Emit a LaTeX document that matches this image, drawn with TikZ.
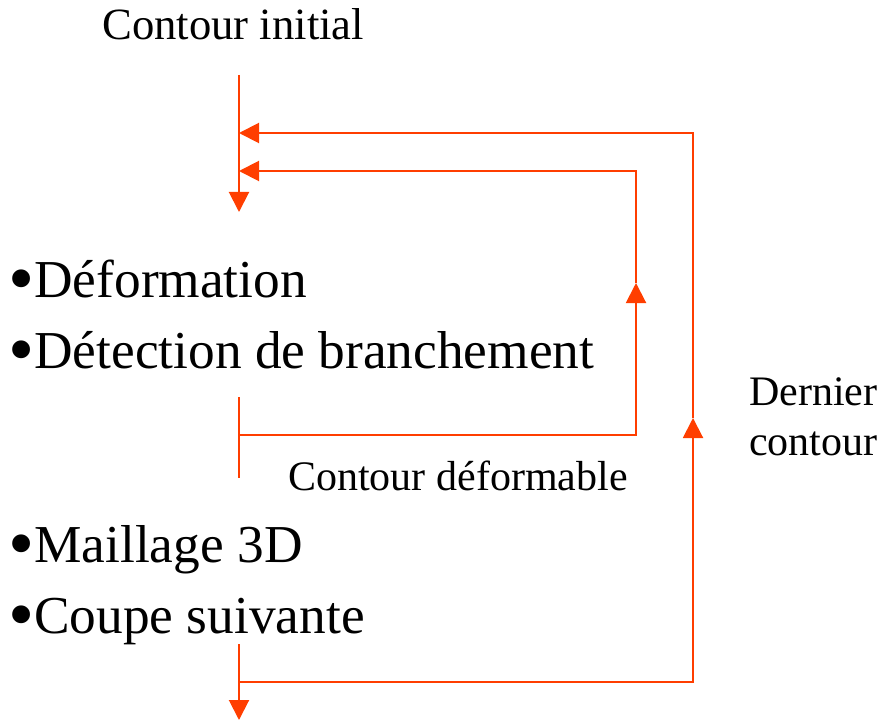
\documentclass[tikz,border=0pt]{standalone}
\usepackage{fontspec}
\setmainfont{Liberation Serif}
\usetikzlibrary{arrows.meta}
\definecolor{flow}{RGB}{255,62,0}
\newcommand{\mybul}{{\fontsize{56}{60}\selectfont\raisebox{-5pt}{•}}}
\begin{document}
\begin{tikzpicture}[x=0.75pt,y=-0.75pt,
  wire/.style={draw=flow,line width=1.5pt},
  tip/.style={-{Triangle[length=15pt,width=15pt]}},
  small/.style={font=\fontsize{31.5}{36}\selectfont,inner sep=0pt,anchor=base west},
  big/.style={font=\fontsize{40}{48}\selectfont,inner sep=0pt,anchor=base west}]
\useasboundingbox (0,0) rectangle (887,720);
% texts
\node[small,font=\fontsize{33.5}{38}\selectfont] (ci) at (102,40) {Contour initial};
\node[big] (def) at (8,297) {\mybul Déformation};
\node[big] (det) at (8,368) {\mybul Détection de branchement};
\node[small] (cd) at (288,490) {Contour déformable};
\node[small] (dc) at (749,405) {Dernier};
\node[small] (dc2) at (749,455) {contour};
\node[big] (mai) at (8,562) {\mybul Maillage 3D};
\node[big] (cou) at (8,633) {\mybul Coupe suivante};
% coordinates
\coordinate (t0) at (239,75);
\coordinate (t1) at (239,212);
\coordinate (a1) at (239,133);
\coordinate (a2) at (239,171);
\coordinate (m0) at (239,397);
\coordinate (m1) at (239,478);
\coordinate (j1) at (239,435);
\coordinate (r1) at (636,435);
\coordinate (r1m) at (636,283);
\coordinate (r1t) at (636,171);
\coordinate (b0) at (239,644);
\coordinate (b1) at (239,720);
\coordinate (j2) at (239,682);
\coordinate (r2) at (693,682);
\coordinate (r2m) at (693,418);
\coordinate (r2t) at (693,133);
% connectors
\draw[wire,tip] (t0) -- (t1);
\draw[wire] (m0) -- (m1);
\draw[wire,tip] (j1) -- (r1) -- (r1m);
\draw[wire,tip] (r1m) -- (r1t) -- (a2);
\draw[wire,tip] (b0) -- (b1);
\draw[wire,tip] (j2) -- (r2) -- (r2m);
\draw[wire,tip] (r2m) -- (r2t) -- (a1);
\end{tikzpicture}
\end{document}
